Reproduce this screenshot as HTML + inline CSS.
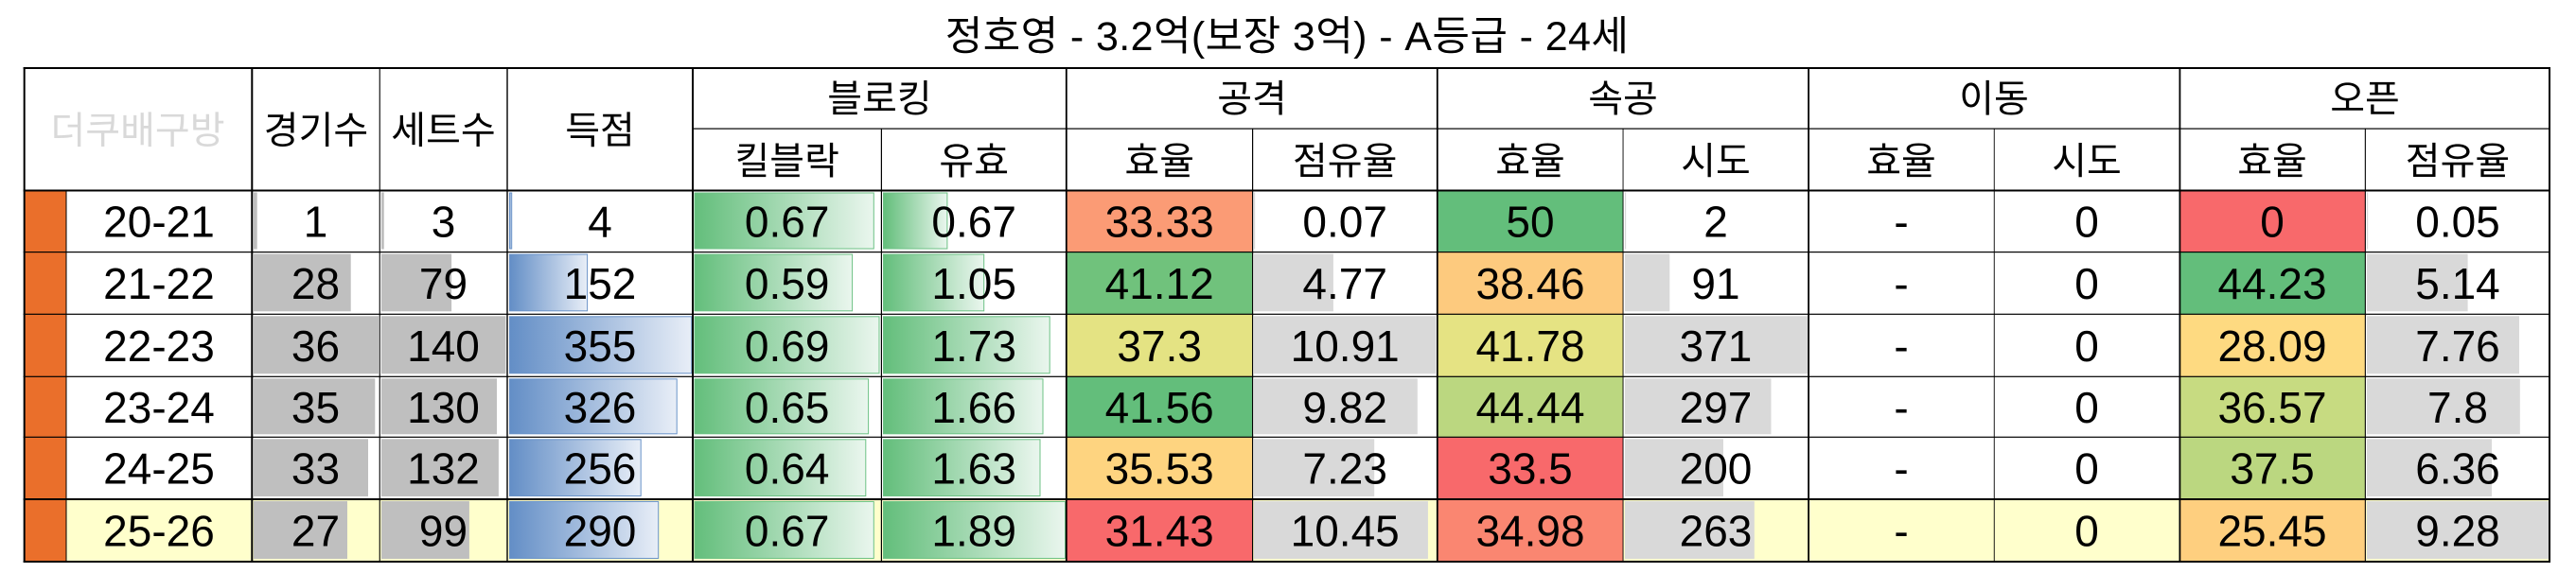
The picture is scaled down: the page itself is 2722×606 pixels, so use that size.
<!DOCTYPE html>
<html><head><meta charset="utf-8">
<style>
html,body{margin:0;padding:0;background:#fff;}
svg{display:block;}
.n{font-family:"Liberation Sans","Noto Sans CJK KR",sans-serif;font-size:46px;fill:#000;text-anchor:middle;}
.h{font-family:"Liberation Sans","Noto Sans CJK KR",sans-serif;font-size:40px;fill:#000;text-anchor:middle;}
.t{font-family:"Liberation Sans","Noto Sans CJK KR",sans-serif;font-size:43px;letter-spacing:0.4px;fill:#000;text-anchor:middle;}
</style></head>
<body>
<svg width="2722" height="606" viewBox="0 0 2722 606" xmlns="http://www.w3.org/2000/svg">
<defs>
<linearGradient id="gg" x1="0" y1="0" x2="1" y2="0"><stop offset="0" stop-color="#63BE7B"/><stop offset="1" stop-color="#EAF6EE"/></linearGradient>
<linearGradient id="gb" x1="0" y1="0" x2="1" y2="0"><stop offset="0" stop-color="#638EC6"/><stop offset="1" stop-color="#E8EEF7"/></linearGradient>
</defs>
<rect x="0" y="0" width="2722" height="606" fill="#fff"/>
<text class="t" x="1360" y="53">정호영 - 3.2억(보장 3억) - A등급 - 24세</text>

<rect x="70" y="528" width="2625" height="66" fill="#FFFFCC"/>
<rect x="26" y="201.5" width="44" height="392.5" fill="#EA6F2B"/>

<rect x="1127" y="201.5" width="196.5" height="65" fill="#FB9B75"/>
<rect x="1127" y="266.5" width="196.5" height="65.8" fill="#70C27C"/>
<rect x="1127" y="332.3" width="196.5" height="66" fill="#E4E383"/>
<rect x="1127" y="398.3" width="196.5" height="64" fill="#63BE7B"/>
<rect x="1127" y="462.3" width="196.5" height="65.7" fill="#FED480"/>
<rect x="1127" y="528" width="196.5" height="66" fill="#F8696B"/>
<rect x="1519" y="201.5" width="196" height="65" fill="#63BE7B"/>
<rect x="1519" y="266.5" width="196" height="65.8" fill="#FDCA7E"/>
<rect x="1519" y="332.3" width="196" height="66" fill="#E5E383"/>
<rect x="1519" y="398.3" width="196" height="64" fill="#BBD780"/>
<rect x="1519" y="462.3" width="196" height="65.7" fill="#F8696B"/>
<rect x="1519" y="528" width="196" height="66" fill="#FA8671"/>
<rect x="2303" y="201.5" width="196" height="65" fill="#F8696B"/>
<rect x="2303" y="266.5" width="196" height="65.8" fill="#63BE7B"/>
<rect x="2303" y="332.3" width="196" height="66" fill="#FEDA81"/>
<rect x="2303" y="398.3" width="196" height="64" fill="#C7DB81"/>
<rect x="2303" y="462.3" width="196" height="65.7" fill="#BBD780"/>
<rect x="2303" y="528" width="196" height="66" fill="#FECF7F"/>

<g fill="#BFBFBF">
<rect x="268" y="203.5" width="3.7" height="60"/>
<rect x="268" y="268.5" width="102.7" height="60.8"/>
<rect x="268" y="334.3" width="132" height="61"/>
<rect x="268" y="400.3" width="128.3" height="59"/>
<rect x="268" y="464.3" width="121" height="60.7"/>
<rect x="268" y="530" width="99" height="61"/>
<rect x="403" y="203.5" width="2.8" height="60"/>
<rect x="403" y="268.5" width="74.1" height="60.8"/>
<rect x="403" y="334.3" width="131.4" height="61"/>
<rect x="403" y="400.3" width="122" height="59"/>
<rect x="403" y="464.3" width="123.9" height="60.7"/>
<rect x="403" y="530" width="92.9" height="61"/>
</g>
<g fill="url(#gb)" stroke="#6A93C9" stroke-width="1">
<rect x="538.5" y="204" width="2.2" height="59"/>
<rect x="538.5" y="269" width="82.1" height="59.8"/>
<rect x="538.5" y="334.8" width="192.3" height="60"/>
<rect x="538.5" y="400.8" width="176.7" height="58"/>
<rect x="538.5" y="464.8" width="138.7" height="59.7"/>
<rect x="538.5" y="530.5" width="157.2" height="60"/>
</g>
<g fill="url(#gg)" stroke="#6DC285" stroke-width="1">
<rect x="734" y="204" width="189.3" height="59"/>
<rect x="734" y="269" width="166.6" height="59.8"/>
<rect x="734" y="334.8" width="195" height="60"/>
<rect x="734" y="400.8" width="183.6" height="58"/>
<rect x="734" y="464.8" width="180.8" height="59.7"/>
<rect x="734" y="530.5" width="189.3" height="60"/>
<rect x="933.5" y="204" width="67.4" height="59"/>
<rect x="933.5" y="269" width="106.2" height="59.8"/>
<rect x="933.5" y="334.8" width="175.7" height="60"/>
<rect x="933.5" y="400.8" width="168.5" height="58"/>
<rect x="933.5" y="464.8" width="165.5" height="59.7"/>
<rect x="933.5" y="530.5" width="192" height="60"/>
</g>
<g fill="#D9D9D9">
<rect x="1325" y="203.5" width="1.2" height="60"/>
<rect x="1325" y="268.5" width="83.9" height="60.8"/>
<rect x="1325" y="334.3" width="192" height="61"/>
<rect x="1325" y="400.3" width="172.8" height="59"/>
<rect x="1325" y="464.3" width="127.2" height="60.7"/>
<rect x="1325" y="530" width="183.9" height="61"/>
<rect x="1717" y="203.5" width="1.2" height="60"/>
<rect x="1717" y="268.5" width="47.3" height="60.8"/>
<rect x="1717" y="334.3" width="193" height="61"/>
<rect x="1717" y="400.3" width="154.5" height="59"/>
<rect x="1717" y="464.3" width="104" height="60.7"/>
<rect x="1717" y="530" width="136.8" height="61"/>
<rect x="2501" y="203.5" width="1.2" height="60"/>
<rect x="2501" y="268.5" width="106.6" height="60.8"/>
<rect x="2501" y="334.3" width="161" height="61"/>
<rect x="2501" y="400.3" width="161.8" height="59"/>
<rect x="2501" y="464.3" width="132" height="60.7"/>
<rect x="2501" y="530" width="192.5" height="61"/>
</g>

<g fill="#000">
<rect x="24.7" y="71" width="2670.3" height="2"/>
<rect x="732" y="135.5" width="1963" height="1.2"/>
<rect x="24.7" y="200.5" width="2670.3" height="2"/>
<rect x="24.7" y="266" width="2670.3" height="1.2"/>
<rect x="24.7" y="331.7" width="2670.3" height="1.2"/>
<rect x="24.7" y="397.7" width="2670.3" height="1.2"/>
<rect x="24.7" y="461.7" width="2670.3" height="1.2"/>
<rect x="24.7" y="527" width="2670.3" height="2"/>
<rect x="24.7" y="593" width="2670.3" height="2"/>
<rect x="24.7" y="71" width="2" height="524"/>
<rect x="69.5" y="201.5" width="1" height="392.5"/>
<rect x="265.3" y="71" width="2" height="524"/>
<rect x="400.7" y="71" width="1.1" height="524"/>
<rect x="535.3" y="71" width="1.4" height="524"/>
<rect x="731" y="71" width="2" height="524"/>
<rect x="930.8" y="136" width="1.2" height="458"/>
<rect x="1125.9" y="71" width="1.8" height="524"/>
<rect x="1323" y="136" width="1.2" height="458"/>
<rect x="1517.9" y="71" width="1.8" height="524"/>
<rect x="1714.6" y="136" width="0.9" height="458"/>
<rect x="1910.2" y="71" width="1.8" height="524"/>
<rect x="2106.8" y="136" width="0.9" height="458"/>
<rect x="2302.5" y="71" width="1.8" height="524"/>
<rect x="2498.8" y="136" width="1.1" height="458"/>
<rect x="2693" y="71" width="2" height="524"/>
</g>

<text class="h" x="145.5" y="151.5" style="fill:#D9D9D9">더쿠배구방</text>
<text class="h" x="334" y="151.5">경기수</text>
<text class="h" x="468.5" y="151.5">세트수</text>
<text class="h" x="634" y="151.5">득점</text>
<text class="h" x="929.5" y="118">블로킹</text>
<text class="h" x="1323" y="118">공격</text>
<text class="h" x="1715" y="118">속공</text>
<text class="h" x="2107" y="118">이동</text>
<text class="h" x="2499" y="118">오픈</text>
<text class="h" x="831.7" y="184">킬블락</text>
<text class="h" x="1029.2" y="184">유효</text>
<text class="h" x="1225.2" y="184">효율</text>
<text class="h" x="1421.2" y="184">점유율</text>
<text class="h" x="1617" y="184">효율</text>
<text class="h" x="1813" y="184">시도</text>
<text class="h" x="2009" y="184">효율</text>
<text class="h" x="2205" y="184">시도</text>
<text class="h" x="2401" y="184">효율</text>
<text class="h" x="2597" y="184">점유율</text>

<g>
<text class="n" x="168" y="250.5">20-21</text>
<text class="n" x="333.5" y="250.5">1</text>
<text class="n" x="468.5" y="250.5">3</text>
<text class="n" x="634" y="250.5">4</text>
<text class="n" x="831.7" y="250.5">0.67</text>
<text class="n" x="1029.2" y="250.5">0.67</text>
<text class="n" x="1225.2" y="250.5">33.33</text>
<text class="n" x="1421.2" y="250.5">0.07</text>
<text class="n" x="1617" y="250.5">50</text>
<text class="n" x="1813" y="250.5">2</text>
<text class="n" x="2009" y="250.5">-</text>
<text class="n" x="2205" y="250.5">0</text>
<text class="n" x="2401" y="250.5">0</text>
<text class="n" x="2597" y="250.5">0.05</text>
</g>
<g>
<text class="n" x="168" y="316">21-22</text>
<text class="n" x="333.5" y="316">28</text>
<text class="n" x="468.5" y="316">79</text>
<text class="n" x="634" y="316">152</text>
<text class="n" x="831.7" y="316">0.59</text>
<text class="n" x="1029.2" y="316">1.05</text>
<text class="n" x="1225.2" y="316">41.12</text>
<text class="n" x="1421.2" y="316">4.77</text>
<text class="n" x="1617" y="316">38.46</text>
<text class="n" x="1813" y="316">91</text>
<text class="n" x="2009" y="316">-</text>
<text class="n" x="2205" y="316">0</text>
<text class="n" x="2401" y="316">44.23</text>
<text class="n" x="2597" y="316">5.14</text>
</g>
<g>
<text class="n" x="168" y="382">22-23</text>
<text class="n" x="333.5" y="382">36</text>
<text class="n" x="468.5" y="382">140</text>
<text class="n" x="634" y="382">355</text>
<text class="n" x="831.7" y="382">0.69</text>
<text class="n" x="1029.2" y="382">1.73</text>
<text class="n" x="1225.2" y="382">37.3</text>
<text class="n" x="1421.2" y="382">10.91</text>
<text class="n" x="1617" y="382">41.78</text>
<text class="n" x="1813" y="382">371</text>
<text class="n" x="2009" y="382">-</text>
<text class="n" x="2205" y="382">0</text>
<text class="n" x="2401" y="382">28.09</text>
<text class="n" x="2597" y="382">7.76</text>
</g>
<g>
<text class="n" x="168" y="447">23-24</text>
<text class="n" x="333.5" y="447">35</text>
<text class="n" x="468.5" y="447">130</text>
<text class="n" x="634" y="447">326</text>
<text class="n" x="831.7" y="447">0.65</text>
<text class="n" x="1029.2" y="447">1.66</text>
<text class="n" x="1225.2" y="447">41.56</text>
<text class="n" x="1421.2" y="447">9.82</text>
<text class="n" x="1617" y="447">44.44</text>
<text class="n" x="1813" y="447">297</text>
<text class="n" x="2009" y="447">-</text>
<text class="n" x="2205" y="447">0</text>
<text class="n" x="2401" y="447">36.57</text>
<text class="n" x="2597" y="447">7.8</text>
</g>
<g>
<text class="n" x="168" y="511.5">24-25</text>
<text class="n" x="333.5" y="511.5">33</text>
<text class="n" x="468.5" y="511.5">132</text>
<text class="n" x="634" y="511.5">256</text>
<text class="n" x="831.7" y="511.5">0.64</text>
<text class="n" x="1029.2" y="511.5">1.63</text>
<text class="n" x="1225.2" y="511.5">35.53</text>
<text class="n" x="1421.2" y="511.5">7.23</text>
<text class="n" x="1617" y="511.5">33.5</text>
<text class="n" x="1813" y="511.5">200</text>
<text class="n" x="2009" y="511.5">-</text>
<text class="n" x="2205" y="511.5">0</text>
<text class="n" x="2401" y="511.5">37.5</text>
<text class="n" x="2597" y="511.5">6.36</text>
</g>
<g>
<text class="n" x="168" y="577.5">25-26</text>
<text class="n" x="333.5" y="577.5">27</text>
<text class="n" x="468.5" y="577.5">99</text>
<text class="n" x="634" y="577.5">290</text>
<text class="n" x="831.7" y="577.5">0.67</text>
<text class="n" x="1029.2" y="577.5">1.89</text>
<text class="n" x="1225.2" y="577.5">31.43</text>
<text class="n" x="1421.2" y="577.5">10.45</text>
<text class="n" x="1617" y="577.5">34.98</text>
<text class="n" x="1813" y="577.5">263</text>
<text class="n" x="2009" y="577.5">-</text>
<text class="n" x="2205" y="577.5">0</text>
<text class="n" x="2401" y="577.5">25.45</text>
<text class="n" x="2597" y="577.5">9.28</text>
</g>
</svg>
</body></html>
